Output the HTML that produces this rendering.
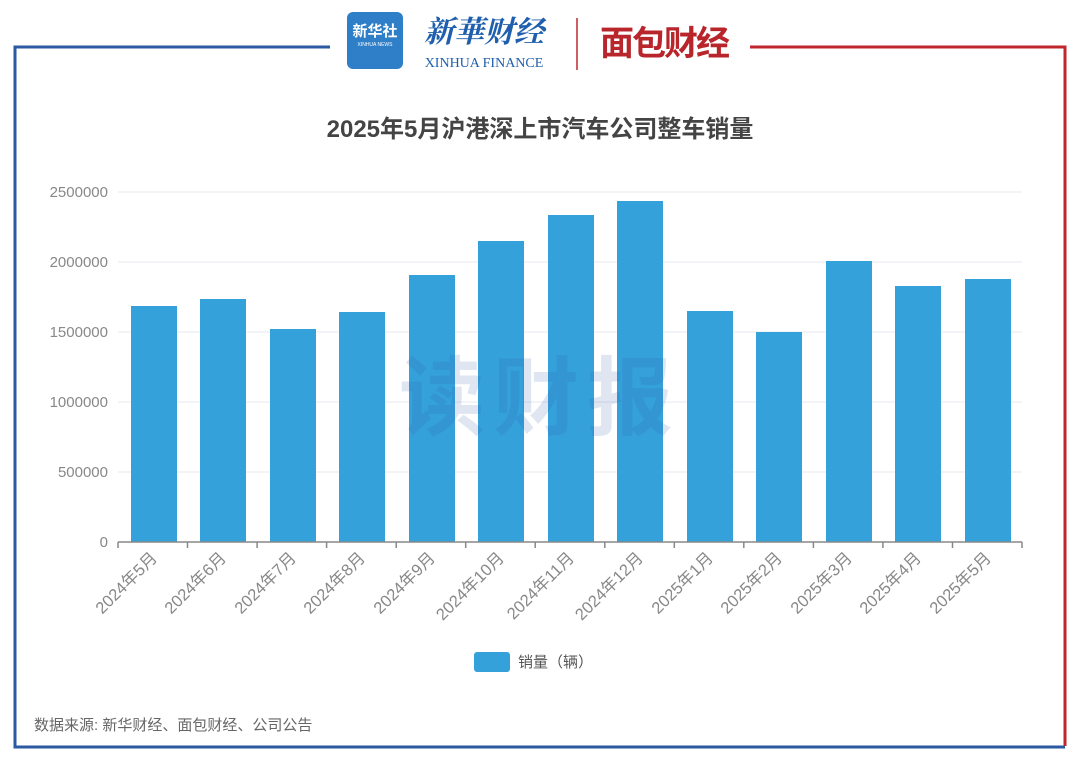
<!DOCTYPE html>
<html><head><meta charset="utf-8"><style>
body{margin:0;background:#fff;width:1080px;height:764px;overflow:hidden;font-family:"Liberation Sans","Noto Sans CJK SC",sans-serif}
</style></head><body>
<svg width="1080" height="764" xmlns="http://www.w3.org/2000/svg" font-family="Liberation Sans, Noto Sans CJK SC, sans-serif">
<!-- frame -->
<polyline points="330,47 15,47 15,747 1065,747" fill="none" stroke="#2b5aa3" stroke-width="3"/>
<polyline points="750,47 1065,47 1065,746" fill="none" stroke="#c0272d" stroke-width="3"/>
<!-- logos -->
<rect x="347" y="12" width="56" height="57" rx="6" fill="#2f7fc8"/>
<text x="375" y="36" font-size="15" fill="#fff" text-anchor="middle" font-weight="bold">新华社</text>
<text x="375" y="46" font-size="5" fill="#fff" text-anchor="middle">XINHUA NEWS</text>
<text x="484" y="42" font-size="30" fill="#1f5fae" text-anchor="middle" font-family="Noto Serif CJK SC, serif" font-style="italic" font-weight="bold">新華财经</text>
<text x="484" y="67" font-size="14" fill="#1f5fae" text-anchor="middle" font-family="Liberation Serif, serif">XINHUA FINANCE</text>
<line x1="577" y1="18" x2="577" y2="70" stroke="#c0272d" stroke-width="1.5"/>
<text x="664" y="55" font-size="34" fill="#b8262c" text-anchor="middle" font-weight="bold" letter-spacing="-2">面包财经</text>
<!-- title -->
<text x="540" y="137" font-size="24" font-weight="bold" fill="#444" text-anchor="middle">2025年5月沪港深上市汽车公司整车销量</text>
<!-- grid -->
<g stroke="#e6e9f2" stroke-width="1">
<line x1="118" y1="192" x2="1022" y2="192"/><line x1="118" y1="262" x2="1022" y2="262"/>
<line x1="118" y1="332" x2="1022" y2="332"/><line x1="118" y1="402" x2="1022" y2="402"/>
<line x1="118" y1="472" x2="1022" y2="472"/></g>
<g font-size="15" fill="#888" text-anchor="end">
<text x="108" y="197">2500000</text><text x="108" y="267">2000000</text><text x="108" y="337">1500000</text>
<text x="108" y="407">1000000</text><text x="108" y="477">500000</text><text x="108" y="547">0</text></g>
<!-- bars -->
<g fill="#35a1db">
<rect x="131" y="306" width="46" height="236"/>
<rect x="200" y="299" width="46" height="243"/>
<rect x="270" y="329" width="46" height="213"/>
<rect x="339" y="312" width="46" height="230"/>
<rect x="409" y="275" width="46" height="267"/>
<rect x="478" y="241" width="46" height="301"/>
<rect x="548" y="215" width="46" height="327"/>
<rect x="617" y="201" width="46" height="341"/>
<rect x="687" y="311" width="46" height="231"/>
<rect x="756" y="332" width="46" height="210"/>
<rect x="826" y="261" width="46" height="281"/>
<rect x="895" y="286" width="46" height="256"/>
<rect x="965" y="279" width="46" height="263"/>
</g>
<!-- watermark -->
<text x="540" y="428" font-size="86" font-weight="bold" fill="#2a5aa8" fill-opacity="0.15" text-anchor="middle" letter-spacing="8">读财报</text>
<line x1="118" y1="542" x2="1022" y2="542" stroke="#888" stroke-width="1.5"/>
<g stroke="#888" stroke-width="1.5">
<line x1="118.0" y1="542" x2="118.0" y2="548"/><line x1="187.5" y1="542" x2="187.5" y2="548"/><line x1="257.1" y1="542" x2="257.1" y2="548"/><line x1="326.6" y1="542" x2="326.6" y2="548"/><line x1="396.2" y1="542" x2="396.2" y2="548"/><line x1="465.7" y1="542" x2="465.7" y2="548"/><line x1="535.2" y1="542" x2="535.2" y2="548"/><line x1="604.8" y1="542" x2="604.8" y2="548"/><line x1="674.3" y1="542" x2="674.3" y2="548"/><line x1="743.8" y1="542" x2="743.8" y2="548"/><line x1="813.4" y1="542" x2="813.4" y2="548"/><line x1="882.9" y1="542" x2="882.9" y2="548"/><line x1="952.5" y1="542" x2="952.5" y2="548"/><line x1="1022" y1="542" x2="1022" y2="548"/>
</g>
<g font-size="16.5" fill="#888" text-anchor="end">
<text transform="translate(158,559) rotate(-45)">2024年5月</text>
<text transform="translate(227,559) rotate(-45)">2024年6月</text>
<text transform="translate(297,559) rotate(-45)">2024年7月</text>
<text transform="translate(366,559) rotate(-45)">2024年8月</text>
<text transform="translate(436,559) rotate(-45)">2024年9月</text>
<text transform="translate(505,559) rotate(-45)">2024年10月</text>
<text transform="translate(575,559) rotate(-45)">2024年11月</text>
<text transform="translate(644,559) rotate(-45)">2024年12月</text>
<text transform="translate(714,559) rotate(-45)">2025年1月</text>
<text transform="translate(783,559) rotate(-45)">2025年2月</text>
<text transform="translate(853,559) rotate(-45)">2025年3月</text>
<text transform="translate(922,559) rotate(-45)">2025年4月</text>
<text transform="translate(992,559) rotate(-45)">2025年5月</text>
</g>
<!-- legend -->
<rect x="474" y="652" width="36" height="20" rx="3" fill="#35a1db"/>
<text x="518" y="667" font-size="15" fill="#555">销量（辆）</text>
<!-- source -->
<text x="34" y="730" font-size="15" fill="#666">数据来源: 新华财经、面包财经、公司公告</text>
</svg>
</body></html>
